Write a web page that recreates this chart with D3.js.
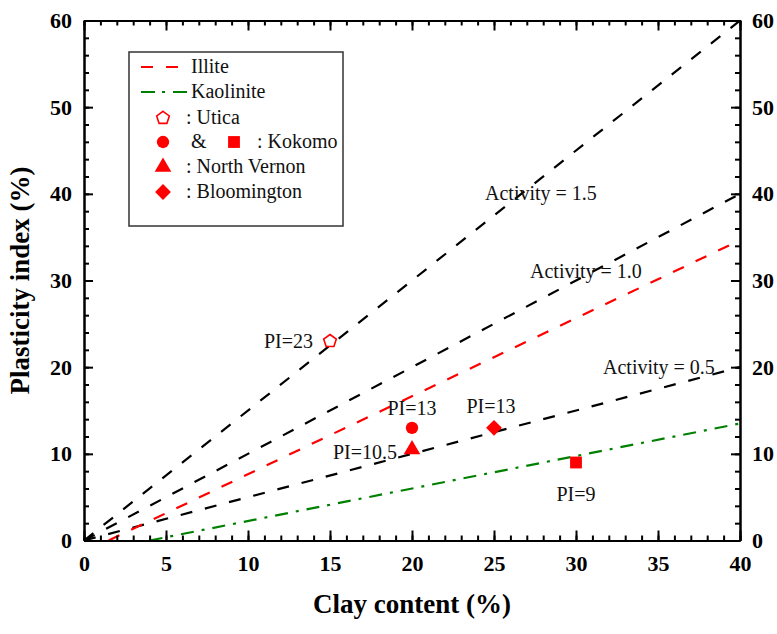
<!DOCTYPE html>
<html>
<head>
<meta charset="utf-8">
<script src="https://cdn.jsdelivr.net/npm/d3@7"></script>
<style>
  html, body { margin: 0; padding: 0; background: #fff; }
  svg { display: block; }
</style>
</head>
<body>
<div id="chart"></div>
<script>
// ── Data ───────────────────────────────────────
const X_TICKS = [0, 5, 10, 15, 20, 25, 30, 35, 40];
const Y_TICKS = [0, 10, 20, 30, 40, 50, 60];

// reference lines: clay content / plasticity index at both ends
const LINE_NAMES = ["Activity = 1.5", "Activity = 1.0", "Activity = 0.5", "Illite", "Kaolinite"];
const LINE_CLAY  = [[0, 40], [0, 40], [0, 40], [1.5, 40], [4, 40]];
const LINE_PI    = [[0, 60], [0, 40], [0, 20], [0, 34.65], [0, 13.5]];

// measured soils
const SITES      = ["Utica", "Kokomo", "Kokomo", "North Vernon", "Bloomington"];
const SITE_CLAY  = [15, 20, 30, 20, 25];
const SITE_PI    = [23, 13, 9, 10.5, 13];
const SITE_TEXT  = ["PI=23", "PI=13", "PI=9", "PI=10.5", "PI=13"];

(function () {
  const W = 777, H = 634;
  const margin = { top: 20.5, right: 37, bottom: 93.5, left: 84 };
  const width  = W - margin.left - margin.right;
  const height = H - margin.top - margin.bottom;
  const FONT = "Liberation Serif";
  const RED = "#ff0000", GREEN = "#008000";

  const svg = d3.select("#chart").append("svg")
    .attr("width", W).attr("height", H);
  const g = svg.append("g")
    .attr("transform", `translate(${margin.left},${margin.top})`);

  const x = d3.scaleLinear().domain([0, 40]).range([0, width]);
  const y = d3.scaleLinear().domain([0, 60]).range([height, 0]);

  // pentagon symbol for Utica
  const symbolPentagon = {
    draw(ctx, size) {
      const r = Math.sqrt(size / (2.5 * Math.sin(2 * Math.PI / 5)));
      for (let i = 0; i < 5; i++) {
        const a = -Math.PI / 2 + i * 2 * Math.PI / 5;
        const px = r * Math.cos(a), py = r * Math.sin(a);
        if (i === 0) ctx.moveTo(px, py); else ctx.lineTo(px, py);
      }
      ctx.closePath();
    }
  };
  const SHAPE = {
    "Utica":        { type: symbolPentagon,  size: 105, rot: 0,  open: true },
    "Kokomo0":      { type: d3.symbolCircle, size: 120, rot: 0 },
    "Kokomo1":      { type: d3.symbolSquare, size: 140, rot: 0 },
    "North Vernon": { type: d3.symbolTriangle, size: 120, rot: 0 },
    "Bloomington":  { type: d3.symbolSquare, size: 125, rot: 45 }
  };
  function drawSymbol(sel, key, cx, cy) {
    const s = SHAPE[key];
    sel.append("path")
      .attr("d", d3.symbol().type(s.type).size(s.size)())
      .attr("transform", `translate(${cx},${cy}) rotate(${s.rot})`)
      .attr("fill", s.open ? "none" : RED)
      .attr("stroke", RED)
      .attr("stroke-width", s.open ? 1.6 : 0);
  }

  // ── Lines ─────────────────────────────────────
  const STYLE = [
    { color: "#000", dash: "12,13" },
    { color: "#000", dash: "12,13" },
    { color: "#000", dash: "12,13" },
    { color: RED,    dash: "12,13" },
    { color: GREEN,  dash: "13,8,3,8" }
  ];
  const lineGen = d3.line().x(d => x(d[0])).y(d => y(d[1]));
  LINE_NAMES.forEach((name, i) => {
    const pts = LINE_CLAY[i].map((c, j) => [c, LINE_PI[i][j]]);
    g.append("path")
      .datum(pts)
      .attr("fill", "none")
      .attr("stroke", STYLE[i].color)
      .attr("stroke-width", 2.2)
      .attr("stroke-dasharray", STYLE[i].dash)
      .attr("d", lineGen);
  });

  // activity labels
  const actPos = [[485, 200], [530, 278], [603, 374]];
  actPos.forEach((p, i) => {
    svg.append("text")
      .attr("x", p[0]).attr("y", p[1])
      .style("font-family", FONT).style("font-size", "20px")
      .attr("fill", "#111").text(LINE_NAMES[i]);
  });

  // ── Points + PI labels ────────────────────────
  const labelOff = [
    { dx: -17, dy: 7,  anchor: "end" },
    { dx: 0,   dy: -13, anchor: "middle" },
    { dx: 0,   dy: 38, anchor: "middle" },
    { dx: -15, dy: 9,  anchor: "end" },
    { dx: -3,  dy: -15, anchor: "middle" }
  ];
  let kok = 0;
  SITES.forEach((site, i) => {
    const cx = x(SITE_CLAY[i]), cy = y(SITE_PI[i]);
    const key = site === "Kokomo" ? "Kokomo" + (kok++) : site;
    drawSymbol(g, key, cx, cy);
    g.append("text")
      .attr("x", cx + labelOff[i].dx).attr("y", cy + labelOff[i].dy)
      .attr("text-anchor", labelOff[i].anchor)
      .style("font-family", FONT).style("font-size", "20px")
      .attr("fill", "#111").text(SITE_TEXT[i]);
  });

  // ── Axes (inward ticks on all four sides) ─────
  const xMinor = d3.range(0, 41, 1);
  const yMinor = d3.range(0, 61, 2);
  function styleAxis(a, showText) {
    a.attr("font-family", null).attr("font-size", null);
    a.select(".domain").attr("stroke", "#000").attr("stroke-width", 2);
    a.selectAll(".tick line").attr("stroke", "#000").attr("stroke-width", 2);
    a.selectAll("text")
      .style("font-family", FONT).style("font-size", "22px")
      .style("font-weight", "bold").attr("fill", "#000");
    if (!showText) a.selectAll("text").remove();
  }
  // minor ticks first
  styleAxis(g.append("g").attr("transform", `translate(0,${height})`)
    .call(d3.axisBottom(x).tickValues(xMinor).tickSize(-5).tickSizeOuter(0)), false);
  styleAxis(g.append("g")
    .call(d3.axisTop(x).tickValues(xMinor).tickSize(-5).tickSizeOuter(0)), false);
  styleAxis(g.append("g")
    .call(d3.axisLeft(y).tickValues(yMinor).tickSize(-5).tickSizeOuter(0)), false);
  styleAxis(g.append("g").attr("transform", `translate(${width},0)`)
    .call(d3.axisRight(y).tickValues(yMinor).tickSize(-5).tickSizeOuter(0)), false);
  // major ticks
  styleAxis(g.append("g").attr("transform", `translate(0,${height})`)
    .call(d3.axisBottom(x).tickValues(X_TICKS).tickSize(-10).tickPadding(15).tickSizeOuter(0)), true);
  styleAxis(g.append("g")
    .call(d3.axisTop(x).tickValues(X_TICKS).tickSize(-10).tickSizeOuter(0)), false);
  styleAxis(g.append("g")
    .call(d3.axisLeft(y).tickValues(Y_TICKS).tickSize(-9).tickPadding(12).tickSizeOuter(0)), true);
  styleAxis(g.append("g").attr("transform", `translate(${width},0)`)
    .call(d3.axisRight(y).tickValues(Y_TICKS).tickSize(-9).tickPadding(12).tickSizeOuter(0)), true);

  // axis titles
  svg.append("text")
    .attr("x", margin.left + width / 2).attr("y", 613)
    .attr("text-anchor", "middle")
    .style("font-family", FONT).style("font-size", "27px").style("font-weight", "bold")
    .text("Clay content (%)");
  svg.append("text")
    .attr("transform", `translate(29,${margin.top + height / 2}) rotate(-90)`)
    .attr("text-anchor", "middle")
    .style("font-family", FONT).style("font-size", "27px").style("font-weight", "bold")
    .text("Plasticity index (%)");

  // ── Legend ─────────────────────────────────────
  const legend = svg.append("g");
  legend.append("rect")
    .attr("x", 129).attr("y", 52).attr("width", 214).attr("height", 174)
    .attr("fill", "#fff").attr("stroke", "#333").attr("stroke-width", 1.5);

  const txt = (tx, ty, s) => legend.append("text")
    .attr("x", tx).attr("y", ty)
    .style("font-family", FONT).style("font-size", "20px")
    .attr("fill", "#111").text(s);

  legend.append("line")
    .attr("x1", 141).attr("x2", 178).attr("y1", 67).attr("y2", 67)
    .attr("stroke", RED).attr("stroke-width", 2.2).attr("stroke-dasharray", "12,13");
  txt(191, 73, "Illite");

  legend.append("line")
    .attr("x1", 141).attr("x2", 187).attr("y1", 92).attr("y2", 92)
    .attr("stroke", GREEN).attr("stroke-width", 2.2).attr("stroke-dasharray", "14,7,3,8");
  txt(191, 98, "Kaolinite");

  drawSymbol(legend, "Utica", 163, 118);
  txt(186, 124, ": Utica");

  drawSymbol(legend, "Kokomo0", 163, 142);
  txt(191, 148, "&");
  drawSymbol(legend, "Kokomo1", 234, 142);
  txt(257, 148, ": Kokomo");

  drawSymbol(legend, "North Vernon", 163, 167);
  txt(186, 173, ": North Vernon");

  drawSymbol(legend, "Bloomington", 163, 192);
  txt(186, 198, ": Bloomington");
})();
</script>
</body>
</html>
